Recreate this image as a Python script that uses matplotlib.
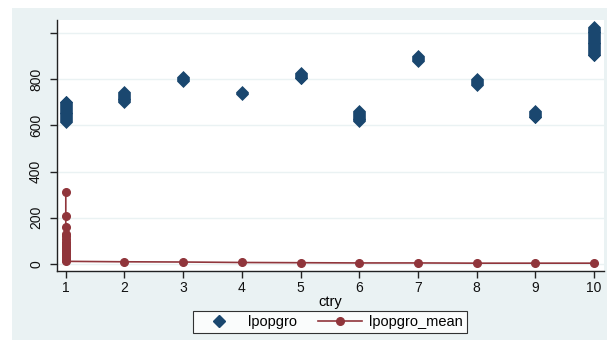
import matplotlib
matplotlib.use("Agg")
import matplotlib.pyplot as plt
from matplotlib.lines import Line2D
from matplotlib.patches import Rectangle

plt.rcParams['font.family'] = ['Liberation Sans', 'DejaVu Sans']

# lpopgro observations per country
ctry_ids = [1, 2, 3, 4, 5, 6, 7, 8, 9, 10]
lpopgro_by_ctry = {
    1: [704, 700, 696, 692, 688, 684, 680, 676, 672, 668, 664, 660, 656, 652, 648,
        644, 640, 636, 632, 628, 624, 620, 617],
    2: [745, 741, 737, 733, 729, 725, 721, 717, 713, 709, 705, 701],
    3: [810, 806, 802, 798, 794],
    4: [744, 741, 738],
    5: [826, 822, 818, 814, 810, 806, 804],
    6: [662, 658, 654, 650, 646, 642, 638, 634, 630, 626, 622, 618],
    7: [900, 896, 892, 888, 884, 880],
    8: [800, 796, 792, 788, 784, 780, 777],
    9: [662, 658, 654, 650, 646, 642, 638, 636],
    10: [1028, 1024, 1020, 1016, 1012, 1008, 1004, 1000, 996, 992, 988, 984, 980,
         976, 972, 968, 964, 960, 956, 952, 948, 944, 940, 936, 932, 928, 924, 920,
         916, 912, 908, 906],
}

# lpopgro_mean series (connected, in data order)
mean_ctry = [1]*18 + [2, 3, 4, 5, 6, 7, 8, 9, 10]
mean_vals = [309, 209, 157, 130, 118, 105, 95, 86, 78, 70, 62, 54, 46, 38, 30, 22, 15, 10,
             8, 7, 5, 4, 3, 3, 2, 2, 2]

y_ticks = [0, 200, 400, 600, 800, 1000]
y_ticklabels = ['0', '200', '400', '600', '800', '']
x_ticks = ctry_ids

navy = '#1a476f'
maroon = '#90353b'
bg = '#eaf2f3'

W, H = 607, 340
fig = plt.figure(figsize=(W/100, H/100), dpi=100)
fig.patch.set_facecolor('white')
fig.patches.append(Rectangle((12/W, 0), 1 - 12/W, (H-8)/H, transform=fig.transFigure,
                             facecolor=bg, edgecolor='none', zorder=-10))

ax = fig.add_axes([57/W, (H-271)/H, (604-57)/W, (271-20)/H])
ax.set_facecolor('white')

xs, ys = [], []
for c in ctry_ids:
    for v in lpopgro_by_ctry[c]:
        xs.append(c)
        ys.append(v)
ax.plot(xs, ys, linestyle='none', marker='D', ms=5.7, color=navy, mec=navy,
        mew=0.5, zorder=3)

ax.plot(mean_ctry, mean_vals, color=maroon, lw=1.2, marker='o', ms=5.5,
        mec=maroon, mfc=maroon, zorder=4)

ax.set_xlim(0.85, 10.17)
ax.set_ylim(-32, 1058)
ax.set_yticks(y_ticks)
ax.set_yticklabels(y_ticklabels, rotation=90, va='center')
ax.set_xticks(x_ticks)
ax.grid(axis='y', color=bg, lw=1)
ax.set_axisbelow(True)
for s in ['top', 'right']:
    ax.spines[s].set_visible(False)
for s in ['left', 'bottom']:
    ax.spines[s].set_color('#222222')
    ax.spines[s].set_linewidth(1)
ax.tick_params(axis='both', direction='out', length=5, width=1, color='#222222',
               labelsize=10, labelcolor='#111111')
ax.tick_params(axis='y', pad=5)
ax.tick_params(axis='x', pad=2)
ax.set_xlabel('ctry', fontsize=10.5, labelpad=0)

handles = [
    Line2D([], [], linestyle='none', marker='D', ms=5.7, color=navy),
    Line2D([], [], color=maroon, lw=1.2, marker='o', ms=5.5),
]
leg = fig.legend(handles, ['lpopgro', 'lpopgro_mean'], loc='center',
                 bbox_to_anchor=(330/W, (H-322)/H), ncol=2, frameon=True,
                 fancybox=False, edgecolor='black', facecolor='white',
                 fontsize=10.5, handlelength=3.0, columnspacing=1.4,
                 borderpad=0.3, handletextpad=0.5, borderaxespad=0)
leg.get_frame().set_linewidth(0.8)

fig.savefig('out.png', dpi=100, facecolor=fig.get_facecolor())
